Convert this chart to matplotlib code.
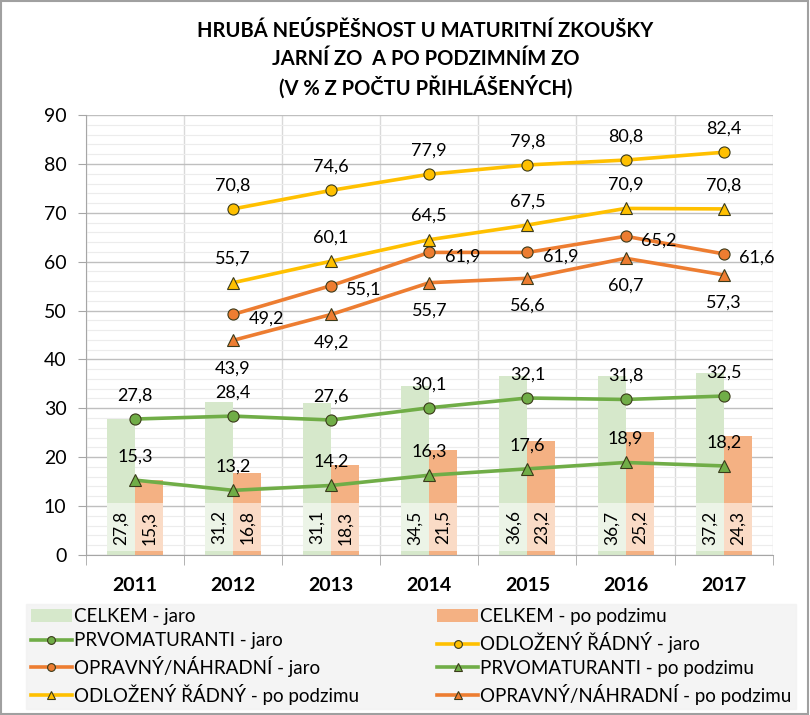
import numpy as np
import matplotlib
matplotlib.use("Agg")
import matplotlib.pyplot as plt
from matplotlib.ticker import MultipleLocator
from matplotlib.patches import Rectangle

plt.rcParams['font.family'] = ['Lato', 'DejaVu Sans']

# data
roky = ['2011', '2012', '2013', '2014', '2015', '2016', '2017']
celkem_jaro = [27.8, 31.2, 31.1, 34.5, 36.6, 36.7, 37.2]
celkem_podzim = [15.3, 16.8, 18.3, 21.5, 23.2, 25.2, 24.3]
prvo_jaro = [27.8, 28.4, 27.6, 30.1, 32.1, 31.8, 32.5]
prvo_podzim = [15.3, 13.2, 14.2, 16.3, 17.6, 18.9, 18.2]
odl_jaro = [np.nan, 70.8, 74.6, 77.9, 79.8, 80.8, 82.4]
odl_podzim = [np.nan, 55.7, 60.1, 64.5, 67.5, 70.9, 70.8]
opr_jaro = [np.nan, 49.2, 55.1, 61.9, 61.9, 65.2, 61.6]
opr_podzim = [np.nan, 43.9, 49.2, 55.7, 56.6, 60.7, 57.3]

nadpis = ['HRUBÁ NEÚSPĚŠNOST U MATURITNÍ ZKOUŠKY',
          'JARNÍ ZO  A PO PODZIMNÍM ZO',
          '(V % Z POČTU PŘIHLÁŠENÝCH)']

zelena = '#70ad47'
zluta = '#ffc000'
oranz = '#ed7d31'

fig = plt.figure(figsize=(8.1, 7.15), dpi=100)
ax = fig.add_axes([0.106, 0.224, 0.848, 0.615])

x = np.arange(len(roky))
w = 0.285
ax.bar(x - w / 2, celkem_jaro, w, color='#d6e8cb', zorder=2, label='CELKEM - jaro')
ax.bar(x + w / 2, celkem_podzim, w, color='#f4b183', zorder=2, label='CELKEM - po podzimu')

# popisky sloupcu (svisle, se svetlym podkladem)
for i in range(len(roky)):
    for xx, v in ((x[i] - w / 2, celkem_jaro[i]), (x[i] + w / 2, celkem_podzim[i])):
        ax.add_patch(Rectangle((xx - w / 2, 0.8), w, 9.8, facecolor='white',
                               alpha=0.55, edgecolor='none', zorder=3))
        ax.text(xx, 5.6, f'{v:.1f}'.replace('.', ','), rotation=90, ha='center',
                va='center', fontsize=12.5, zorder=4)

def serie(vals, color, marker, label, pos):
    ax.plot(x, vals, color=color, lw=2.6, marker=marker, ms=8 if marker == 'o' else 8.5,
            markerfacecolor=color, markeredgecolor='#3a3a1a', markeredgewidth=0.8,
            zorder=5, label=label)
    for xi, v in zip(x, vals):
        if np.isnan(v):
            continue
        t = f'{v:.1f}'.replace('.', ',')
        if pos == 'above':
            ax.annotate(t, (xi, v), xytext=(0, 17), textcoords='offset points',
                        ha='center', va='center', fontsize=13, zorder=6)
        elif pos == 'right':
            ax.annotate(t, (xi, v), xytext=(11, -3), textcoords='offset points',
                        ha='left', va='center', fontsize=13, zorder=6)
        else:
            ax.annotate(t, (xi, v), xytext=(0, -20), textcoords='offset points',
                        ha='center', va='center', fontsize=13, zorder=6)

serie(prvo_jaro, zelena, 'o', 'PRVOMATURANTI - jaro', 'above')
serie(odl_jaro, zluta, 'o', 'ODLOŽENÝ ŘÁDNÝ - jaro', 'above')
serie(opr_jaro, oranz, 'o', 'OPRAVNÝ/NÁHRADNÍ - jaro', 'right')
serie(prvo_podzim, zelena, '^', 'PRVOMATURANTI - po podzimu', 'above')
serie(odl_podzim, zluta, '^', 'ODLOŽENÝ ŘÁDNÝ - po podzimu', 'above')
serie(opr_podzim, oranz, '^', 'OPRAVNÝ/NÁHRADNÍ - po podzimu', 'below')

ax.set_xlim(-0.5, len(roky) - 0.5)
ax.set_ylim(0, 90)
ax.yaxis.set_major_locator(MultipleLocator(10))
ax.yaxis.set_minor_locator(MultipleLocator(2))
ax.grid(which='major', axis='y', color='#bfbfbf', lw=1, zorder=0)
ax.grid(which='minor', axis='y', color='#ececec', lw=0.8, zorder=0)
ax.set_xticks(x)
ax.set_xticklabels(roky, fontweight='bold', fontsize=14)
ax.set_xticks(np.arange(len(roky) + 1) - 0.5, minor=True)
ax.grid(which='minor', axis='x', color='#d9d9d9', lw=1, zorder=0)
ax.tick_params(axis='x', which='major', length=0, pad=16)
ax.tick_params(axis='x', which='minor', length=7, color='#a6a6a6', labelbottom=False)
ax.tick_params(axis='y', which='major', length=6, color='#a6a6a6', labelsize=14, pad=8)
ax.tick_params(axis='y', which='minor', length=0)
for s in ['top', 'right']:
    ax.spines[s].set_visible(False)
for s in ['left', 'bottom']:
    ax.spines[s].set_color('#a6a6a6')

for radek, yy in zip(nadpis, [0.957, 0.917, 0.878]):
    fig.text(0.525, yy, radek, ha='center', va='center', fontsize=14.5, fontweight='bold')

h, lab = ax.get_legend_handles_labels()
# ax legend order: lines first, then bars
lines = h[:6]
bars = h[6:]
poradi = [bars[0], lines[0], lines[2], lines[4], bars[1], lines[1], lines[3], lines[5]]
fig.legend(poradi, [p.get_label() for p in poradi], ncol=2, loc='lower left',
           bbox_to_anchor=(0.025, 0.0, 0.965, 0.148), mode='expand',
           fontsize=13.5, frameon=True, facecolor='#f2f2f2', edgecolor='#f2f2f2',
           fancybox=False, handlelength=2.2, handletextpad=0.1, labelspacing=0.36,
           borderaxespad=0.3, borderpad=0.25, columnspacing=1.0, markerscale=0.7)

fig.patches.append(Rectangle((0.001, 0.001), 0.997, 0.997, transform=fig.transFigure,
                             fill=False, edgecolor='#a0a0a0', lw=1.5))

fig.savefig('out.png', dpi=100)
